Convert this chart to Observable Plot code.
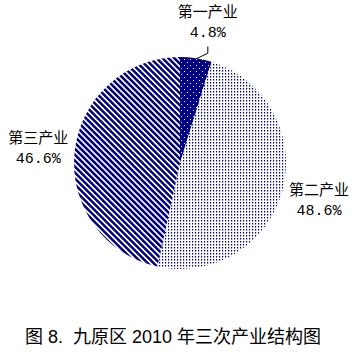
<!DOCTYPE html>
<html>
<head>
<meta charset="utf-8">
<script src="https://cdn.jsdelivr.net/npm/d3@7"></script>
<script src="https://cdn.jsdelivr.net/npm/@observablehq/plot@0.6"></script>
<style>
  body { margin: 0; background: #fff; width: 356px; height: 358px; overflow: hidden; }
  #chart svg { display: block; }
  #caption { font-family: "Liberation Sans", "Noto Sans CJK SC", sans-serif; font-size: 18px; color: #000; text-align: center; padding-right: 10px; margin-top: 7px; line-height: 20px; white-space: nowrap; }
</style>
</head>
<body>
<div id="chart"></div>
<div id="caption">图 8.&nbsp;&nbsp;九原区 2010 年三次产业结构图</div>
<script>
const categories = ["第一产业", "第二产业", "第三产业"];
const values = [4.8, 48.6, 46.6];
const valueLabels = ["4.8%", "48.6%", "46.6%"];
const patternIds = ["pat1", "pat2", "pat3"];

const NAVY = "#000080";
const pie = d3.pie().sort(null).value(d => d.value);
const arcs = pie(categories.map((name, i) => ({name, value: values[i], label: valueLabels[i], pat: patternIds[i]})));

const labelR = 1.35;
const labels = arcs.map(a => {
  const m = (a.startAngle + a.endAngle) / 2;
  return {name: a.data.name, label: a.data.label, x: labelR * Math.sin(m), y: labelR * Math.cos(m), m};
});
// small nudge for the tiny slice label, as in reference
labels[0].x += 0.055;

// leader line for the first slice
const m0 = labels[0].m;
const leader = [
  {x: Math.sin(m0), y: Math.cos(m0)},
  {x: labels[0].x, y: 1.04},
  {x: labels[0].x, y: 1.1}
];

function pieMark(index, scales) {
  const cx = scales.x(0), cy = scales.y(0);
  const r = scales.x(1) - scales.x(0);
  const g = d3.create("svg:g");
  const defs = g.append("defs");
  // dark slice: navy with white dots
  const p1 = defs.append("pattern").attr("id", "pat1").attr("patternUnits", "userSpaceOnUse").attr("width", 6).attr("height", 6);
  p1.append("rect").attr("width", 6).attr("height", 6).attr("fill", NAVY);
  p1.append("rect").attr("x", 1).attr("y", 1).attr("width", 1).attr("height", 1).attr("fill", "#fff");
  p1.append("rect").attr("x", 4).attr("y", 4).attr("width", 1).attr("height", 1).attr("fill", "#fff");
  // second: small navy dots on white
  const p2 = defs.append("pattern").attr("id", "pat2").attr("patternUnits", "userSpaceOnUse").attr("width", 3).attr("height", 3);
  p2.append("rect").attr("width", 3).attr("height", 3).attr("fill", "#fff");
  p2.append("rect").attr("x", 0).attr("y", 0).attr("width", 1.2).attr("height", 1.5).attr("fill", NAVY);
  // third: diagonal stripes "\"
  const p3 = defs.append("pattern").attr("id", "pat3").attr("patternUnits", "userSpaceOnUse").attr("width", 8).attr("height", 4.2).attr("patternTransform", "rotate(45)");
  p3.append("rect").attr("width", 8).attr("height", 4.2).attr("fill", "#fff");
  p3.append("rect").attr("width", 8).attr("height", 2.3).attr("fill", NAVY).attr("shape-rendering", "crispEdges");
  const arc = d3.arc().innerRadius(0).outerRadius(r);
  g.append("g").attr("transform", `translate(${cx},${cy})`)
    .selectAll("path").data(arcs).join("path")
    .attr("d", arc)
    .attr("fill", d => `url(#${d.data.pat})`);
  return g.node();
}

const chart = Plot.plot({
  width: 356,
  height: 320,
  margin: 0,
  x: {domain: [-1, 1], range: [74, 286], axis: null},
  y: {domain: [-1, 1], range: [269, 57], axis: null},
  marks: [
    pieMark,
    Plot.line(leader, {x: "x", y: "y", stroke: "#000", strokeWidth: 1}),
    Plot.text(labels, {x: "x", y: "y", text: "name", dy: -10, fontSize: 15, fill: "#000", fontFamily: "Noto Sans CJK SC", textAnchor: "middle"}),
    Plot.text(labels, {x: "x", y: "y", text: "label", dy: 10, fontSize: 15, fill: "#000", fontFamily: "Liberation Mono", textAnchor: "middle"})
  ]
});
document.getElementById("chart").append(chart);
</script>
</body>
</html>
